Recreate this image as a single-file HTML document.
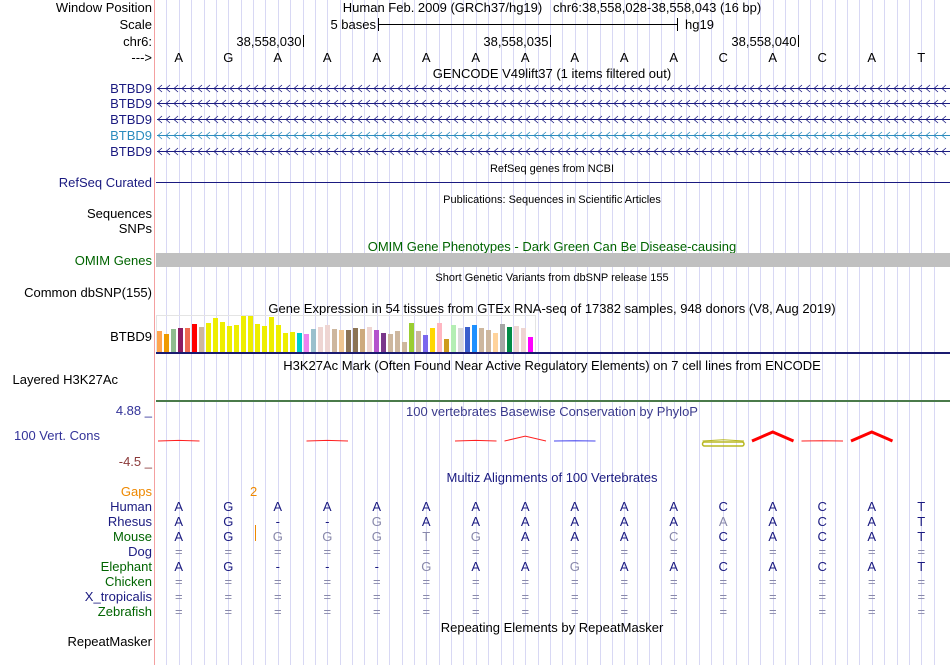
<!DOCTYPE html>
<html><head><meta charset="utf-8">
<style>
body{margin:0;background:#fff;}
svg{display:block;font-family:"Liberation Sans",sans-serif;}
</style></head><body>
<svg id="c" width="950" height="665" xmlns="http://www.w3.org/2000/svg">
<g id="grid"></g>
<line x1="154.5" y1="0" x2="154.5" y2="665" stroke="#f4a0a0" stroke-width="1"/>
<g font-size="13" fill="#000" text-anchor="end">
<text x="152" y="12">Window Position</text>
<text x="152" y="29">Scale</text>
<text x="152" y="46">chr6:</text>
<text x="152" y="62">---&gt;</text>
<text x="152" y="93" fill="#1a1a80">BTBD9</text>
<text x="152" y="108" fill="#1a1a80">BTBD9</text>
<text x="152" y="124" fill="#1a1a80">BTBD9</text>
<text x="152" y="140" fill="#2b8cbe">BTBD9</text>
<text x="152" y="156" fill="#1a1a80">BTBD9</text>
<text x="152" y="187" fill="#1a1a80">RefSeq Curated</text>
<text x="152" y="218">Sequences</text>
<text x="152" y="233">SNPs</text>
<text x="152" y="265" fill="#006400">OMIM Genes</text>
<text x="152" y="297">Common dbSNP(155)</text>
<text x="152" y="341">BTBD9</text>
<text x="118" y="384">Layered H3K27Ac</text>
<text x="152" y="415" fill="#333399">4.88 _</text>
<text x="100" y="440" fill="#333399">100 Vert. Cons</text>
<text x="152" y="466" fill="#8b3a3a">-4.5 _</text>
<text x="152" y="496" fill="#ee8800">Gaps</text>
<text x="152" y="646">RepeatMasker</text>
</g>
<g font-size="13" text-anchor="middle">
<text x="552" y="12" xml:space="preserve">Human Feb. 2009 (GRCh37/hg19)   chr6:38,558,028-38,558,043 (16 bp)</text>
<text x="552" y="78">GENCODE V49lift37 (1 items filtered out)</text>
<text x="552" y="172" font-size="11">RefSeq genes from NCBI</text>
<text x="552" y="203" font-size="11">Publications: Sequences in Scientific Articles</text>
<text x="552" y="251" fill="#006400">OMIM Gene Phenotypes - Dark Green Can Be Disease-causing</text>
<text x="552" y="281" font-size="11">Short Genetic Variants from dbSNP release 155</text>
<text x="552" y="313">Gene Expression in 54 tissues from GTEx RNA-seq of 17382 samples, 948 donors (V8, Aug 2019)</text>
<text x="552" y="370">H3K27Ac Mark (Often Found Near Active Regulatory Elements) on 7 cell lines from ENCODE</text>
<text x="552" y="416" fill="#3a3a8c">100 vertebrates Basewise Conservation by PhyloP</text>
<text x="552" y="482" fill="#1a1a80">Multiz Alignments of 100 Vertebrates</text>
<text x="552" y="632">Repeating Elements by RepeatMasker</text>
</g>
<g font-size="13">
<text x="376" y="29" text-anchor="end">5 bases</text>
<line x1="378.5" y1="24.5" x2="677.5" y2="24.5" stroke="#000"/>
<line x1="378.5" y1="18" x2="378.5" y2="31" stroke="#000"/>
<line x1="677.5" y1="18" x2="677.5" y2="31" stroke="#000"/>
<text x="685" y="29">hg19</text>
</g>
<g id="ruler" font-size="13"></g>
<g id="bases" font-size="13" text-anchor="middle"></g>
<g id="genes"></g>
<line x1="156" y1="182.5" x2="950" y2="182.5" stroke="#1a1a80"/>
<rect x="156" y="253" width="794" height="14" fill="#c0c0c0"/>
<rect x="156.5" y="315.5" width="379" height="37" fill="none" stroke="#e4e4e4"/>
<g id="gtex"></g>
<rect x="156" y="352" width="794" height="2" fill="#1a1a70"/>
<rect x="156" y="400" width="794" height="2" fill="#4a7a4a"/>
<g id="phylop"></g>
<g font-size="13" fill="#ee8800">
<text x="250" y="496">2</text>
<line x1="255.5" y1="525" x2="255.5" y2="541" stroke="#ee8800"/>
</g>
<g id="aln" font-size="13"></g>
</svg>
<script>
const NS="http://www.w3.org/2000/svg";
const refBases=["A","G","A","A","A","A","A","A","A","A","A","C","A","C","A","T"];
const rulerPos=["38,558,030","38,558,035","38,558,040"];
const rulerIdx=[2,7,12];
const gtexColors=["#FFA54F","#EE9A00","#8FBC8F","#8B1C62","#EE6A50","#FF0000","#CDB79E","#EEEE00","#EEEE00","#EEEE00","#EEEE00","#EEEE00","#EEEE00","#EEEE00","#EEEE00","#EEEE00","#EEEE00","#EEEE00","#EEEE00","#EEEE00","#00CDCD","#EE82EE","#9AC0CD","#EED5D2","#EED5D2","#CDB79E","#EEC591","#8B7355","#8B7355","#CDAA7D","#EED5D2","#B452CD","#7A378B","#CDB79E","#CDB79E","#CDB79E","#9ACD32","#CDB79E","#7A67EE","#FFD700","#FFB6C1","#CD9B1D","#B4EEB4","#D9D9D9","#3A5FCD","#1E90FF","#CDB79E","#CDB79E","#FFD39B","#A6A6A6","#008B45","#EED5D2","#EED5D2","#FF00FF"];
const gtexValues=[21,18,23,24,24,28,25,29,34,30,26,27,36,36,28,26,35,27,19,20,19,18,23,25,27,23,22,22,24,23,25,22,19,18,21,10,29,21,17,24,29,13,27,24,25,27,24,22,19,28,25,26,24,15];
const phylopValues=[0.2,null,null,0.2,null,null,0.2,1.6,0.1,null,null,-0.4,3.0,0.1,3.0,null];
const species=["Human","Rhesus","Mouse","Dog","Elephant","Chicken","X_tropicalis","Zebrafish"];
const speciesColors=["#1a1a80","#1a1a80","#006400","#1a1a80","#006400","#006400","#1a1a80","#006400"];
const alnRows=["AGAAAAAAAAACACAT","AG--GAAAAAAAACAT","AGGGGTGAAACCACAT","================","AG---GAAGAACACAT","================","================","================"];
const alnGray=["................","....*......*....","..*****...*.....","****************",".....*..*.......","****************","****************","****************"];

const X0=154,BW=49.5;
const bx=i=>X0+BW*(i+0.5);
const vy=v=>352-v;
const pyZero=441,pyScale=3;
const py=v=>pyZero-v*pyScale;
function mk(tag,attrs,parent,txt){const e=document.createElementNS(NS,tag);for(const k in attrs)e.setAttribute(k,attrs[k]);if(txt!==undefined)e.textContent=txt;parent.appendChild(e);return e;}

const grid=document.getElementById('grid');
for(let k=1;k<64;k++){const x=Math.round(X0+k*BW/4)+0.5;const l=mk('line',{x1:x,y1:0,x2:x,y2:665,stroke:'#d8d8f4'},grid);

}

const ruler=document.getElementById('ruler');
rulerIdx.forEach((idx,j)=>{const x=Math.round(X0+BW*idx+BW/2)+0.5+25;
const t=mk('text',{x:x-2,y:46,'text-anchor':'end'},ruler,rulerPos[j]);


mk('line',{x1:x,y1:35,x2:x,y2:47,stroke:'#000'},ruler);});

const bases=document.getElementById('bases');
refBases.forEach((b,i)=>{const t=mk('text',{x:bx(i),y:62},bases,b);

});

const genes=document.getElementById('genes');
[88,103,119,135,151].forEach((y,r)=>{const col=r===3?'#2b8cbe':'#1a1a80';
const g=mk('g',{},genes);


mk('line',{x1:157,y1:y+0.5,x2:950,y2:y+0.5,stroke:col},g);
let d='';for(let x=158;x<950;x+=8){d+=`M${x+4},${y-3}L${x},${y+0.5}L${x+4},${y+4}`;}
mk('path',{d:d,stroke:col,fill:'none','stroke-width':'0.8'},g);});

const gtex=document.getElementById('gtex');
gtexValues.forEach((v,i)=>{const r=mk('rect',{x:157+i*7,y:vy(v),width:5,height:v,fill:gtexColors[i]},gtex);

});

const ph=document.getElementById('phylop');
phylopValues.forEach((v,i)=>{if(v===null)return;
const x1=X0+BW*i+4,x2=X0+BW*(i+1)-4,xc=bx(i);
let col=v<0?'#b8b820':(v>=2?'#ff0000':(i===8?'#4444ee':'#ff2020'));
const w=v>=2?3:1;
const p=mk('polyline',{points:`${x1},${pyZero} ${xc},${py(Math.abs(v))} ${x2},${pyZero}`,fill:'none',stroke:col,'stroke-width':w},ph);


if(v<0){const e=mk('rect',{x:x1,y:pyZero+1,width:x2-x1,height:4,rx:2,fill:'none',stroke:'#b8b820','stroke-width':1.5},ph);

}});

const aln=document.getElementById('aln');
species.forEach((s,r)=>{const y=511+r*15;
const lab=mk('text',{x:152,y:y,'text-anchor':'end',fill:speciesColors[r]},aln,s);


for(let i=0;i<16;i++){const ch=alnRows[r][i];const gray=alnGray[r][i]==='*';
const t=mk('text',{x:bx(i),y:y,'text-anchor':'middle',fill:gray?'#8888aa':'#1a1a80'},aln,ch);

}});
</script>
</body></html>
